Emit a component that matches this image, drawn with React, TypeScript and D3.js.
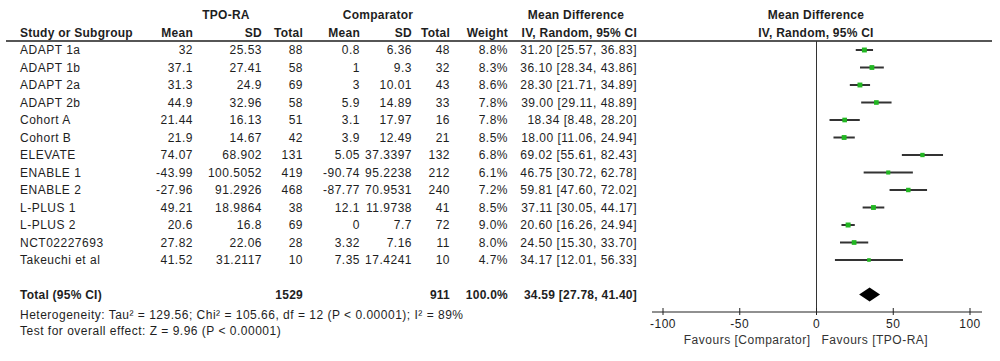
import * as d3 from "d3";

const studies = ["ADAPT 1a", "ADAPT 1b", "ADAPT 2a", "ADAPT 2b", "Cohort A", "Cohort B", "ELEVATE", "ENABLE 1", "ENABLE 2", "L-PLUS 1", "L-PLUS 2", "NCT02227693", "Takeuchi et al"];
const tpoMean = ["32", "37.1", "31.3", "44.9", "21.44", "21.9", "74.07", "-43.99", "-27.96", "49.21", "20.6", "27.82", "41.52"];
const tpoSd = ["25.53", "27.41", "24.9", "32.96", "16.13", "14.67", "68.902", "100.5052", "91.2926", "18.9864", "16.8", "22.06", "31.2117"];
const tpoTotal = [88, 58, 69, 58, 51, 42, 131, 419, 468, 38, 69, 28, 10];
const compMean = ["0.8", "1", "3", "5.9", "3.1", "3.9", "5.05", "-90.74", "-87.77", "12.1", "0", "3.32", "7.35"];
const compSd = ["6.36", "9.3", "10.01", "14.89", "17.97", "12.49", "37.3397", "95.2238", "70.9531", "11.9738", "7.7", "7.16", "17.4241"];
const compTotal = [48, 32, 43, 33, 16, 21, 132, 212, 240, 41, 72, 11, 10];
const weights = [8.8, 8.3, 8.6, 7.8, 7.8, 8.5, 6.8, 6.1, 7.2, 8.5, 9.0, 8.0, 4.7];
const md = [31.2, 36.1, 28.3, 39.0, 18.34, 18.0, 69.02, 46.75, 59.81, 37.11, 20.6, 24.5, 34.17];
const ciLow = [25.57, 28.34, 21.71, 29.11, 8.48, 11.06, 55.61, 30.72, 47.6, 30.05, 16.26, 15.3, 12.01];
const ciHigh = [36.83, 43.86, 34.89, 48.89, 28.2, 24.94, 82.43, 62.78, 72.02, 44.17, 24.94, 33.7, 56.33];

const pooled = {md: 34.59, lo: 27.78, hi: 41.4, tpoN: 1529, compN: 911};
const heterogeneity = "Heterogeneity: Tau² = 129.56; Chi² = 105.66, df = 12 (P < 0.00001); I² = 89%";
const overall = "Test for overall effect: Z = 9.96 (P < 0.00001)";
const axisTicks = [-100, -50, 0, 50, 100];

const W = 1000;
const H = 361;
const font = "'Liberation Sans', Arial, sans-serif";
const ink = "#1e1e1e";

// column right edges
const col = {tpoMean: 193, tpoSd: 262, tpoTotal: 303, compMean: 360, compSd: 412, compTotal: 450, weight: 508, ci: 637};

export default function App() {
    const x = d3.scaleLinear().domain([-100, 100]).range([663, 970]);
    const y = d3.scaleLinear().domain([0, studies.length - 1]).range([50, 260]);
    const sq = d3.scaleSqrt().domain([0, 9]).range([0, 5]);

    const axisY = 312;
    const totalY = 294.5;
    const fmt = (v: number) => v.toFixed(2);

    const txt = (s: string | number, xx: number, yy: number, anchor = "end", bold = false) => (
        <text x={xx} y={yy + 4.3} textAnchor={anchor} fontWeight={bold ? "bold" : "normal"}
              letterSpacing={bold ? 0.25 : 0.5}>{s}</text>
    );

    return (
        <svg width={W} height={H} style={{position: "absolute", left: 0, top: 0, background: "#fff"}}
             fontFamily={font} fontSize={12} fill={ink}>
            {/* headers */}
            {txt("TPO-RA", 226, 15, "middle", true)}
            {txt("Comparator", 378, 15, "middle", true)}
            {txt("Mean Difference", 576, 15, "middle", true)}
            {txt("Mean Difference", 816, 15, "middle", true)}
            {txt("Study or Subgroup", 20, 33, "start", true)}
            {txt("Mean", col.tpoMean, 33, "end", true)}
            {txt("SD", col.tpoSd, 33, "end", true)}
            {txt("Total", col.tpoTotal, 33, "end", true)}
            {txt("Mean", col.compMean, 33, "end", true)}
            {txt("SD", col.compSd, 33, "end", true)}
            {txt("Total", col.compTotal, 33, "end", true)}
            {txt("Weight", col.weight, 33, "end", true)}
            {txt("IV, Random, 95% CI", col.ci, 33, "end", true)}
            {txt("IV, Random, 95% CI", 816, 33, "middle", true)}
            <line x1={6} x2={992} y1={41} y2={41} stroke={ink} strokeWidth={1.5}/>

            {/* study rows */}
            {studies.map((s, i) => {
                const yy = y(i);
                return (
                    <g key={s}>
                        {txt(s, 20, yy, "start")}
                        {txt(tpoMean[i], col.tpoMean, yy)}
                        {txt(tpoSd[i], col.tpoSd, yy)}
                        {txt(tpoTotal[i], col.tpoTotal, yy)}
                        {txt(compMean[i], col.compMean, yy)}
                        {txt(compSd[i], col.compSd, yy)}
                        {txt(compTotal[i], col.compTotal, yy)}
                        {txt(weights[i].toFixed(1) + "%", col.weight, yy)}
                        {txt(`${fmt(md[i])} [${fmt(ciLow[i])}, ${fmt(ciHigh[i])}]`, col.ci, yy)}
                        <line x1={x(ciLow[i])} x2={x(ciHigh[i])} y1={yy} y2={yy} stroke="#333" strokeWidth={2}/>
                        <rect x={x(md[i]) - sq(weights[i]) / 2} y={yy - sq(weights[i]) / 2}
                              width={sq(weights[i])} height={sq(weights[i])} fill="#22b722"/>
                    </g>
                );
            })}

            {/* total */}
            {txt("Total (95% CI)", 20, totalY, "start", true)}
            {txt(pooled.tpoN, col.tpoTotal, totalY, "end", true)}
            {txt(pooled.compN, col.compTotal, totalY, "end", true)}
            {txt("100.0%", col.weight, totalY, "end", true)}
            {txt(`${fmt(pooled.md)} [${fmt(pooled.lo)}, ${fmt(pooled.hi)}]`, col.ci, totalY, "end", true)}
            <path d={`M${x(pooled.lo)},${totalY} L${x(pooled.md)},${totalY - 7} L${x(pooled.hi)},${totalY} L${x(pooled.md)},${totalY + 7} Z`}
                  fill="#000"/>

            {txt(heterogeneity, 20, 315, "start")}
            {txt(overall, 20, 331, "start")}

            {/* zero line and axis */}
            <line x1={x(0)} x2={x(0)} y1={41} y2={axisY} stroke="#333" strokeWidth={1}/>
            <line x1={652} x2={982} y1={axisY} y2={axisY} stroke="#222" strokeWidth={1.2}/>
            {axisTicks.map(t => (
                <g key={t}>
                    <line x1={x(t)} x2={x(t)} y1={axisY - 4} y2={axisY + 3} stroke="#222"/>
                    <text x={x(t)} y={axisY + 16} textAnchor="middle" letterSpacing={0.5}>{t}</text>
                </g>
            ))}
            <text x={x(0) - 6} y={343.5} textAnchor="end" fill="#333" letterSpacing={0.5}>Favours [Comparator]</text>
            <text x={x(0) + 5} y={343.5} textAnchor="start" fill="#333" letterSpacing={0.5}>Favours [TPO-RA]</text>
        </svg>
    );
}
